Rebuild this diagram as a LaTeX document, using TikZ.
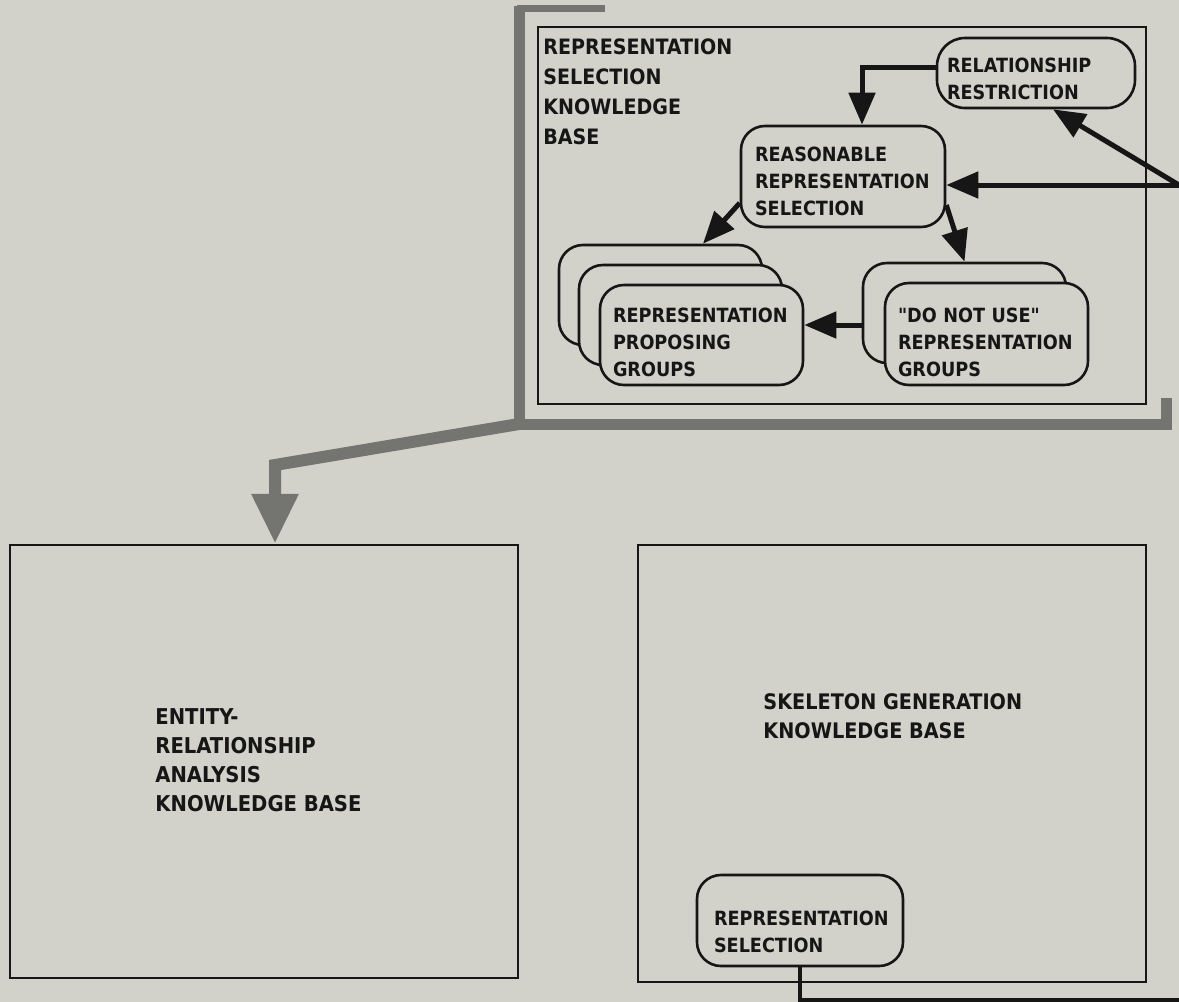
\documentclass[tikz,border=0pt]{standalone}
\usepackage{fontspec}
\newfontfamily\diafont{DejaVu Sans Condensed}
\usetikzlibrary{arrows.meta}
\definecolor{paper}{RGB}{210,210,203}
\definecolor{ink}{RGB}{22,22,22}
\definecolor{halftone}{RGB}{116,116,112}
\newcommand\boxfont{\diafont\bfseries\fontsize{9.8}{13.5}\selectfont}
\newcommand\kbfont{\diafont\bfseries\fontsize{10.6}{15}\selectfont}
\newcommand\toppad[1]{\rule{0pt}{#1}}

\begin{document}
\begin{tikzpicture}[x=0.5pt,y=-0.5pt,
  kbframe/.style={draw=ink, line width=1.2pt, inner sep=0pt},
  card/.style={draw=ink, line width=1.3pt, fill=paper, rounded corners=12pt,
    inner ysep=0pt, align=left, font=\boxfont, text=ink},
  kbtext/.style={inner sep=0pt, anchor=north west, align=left, font=\kbfont, text=ink},
  arr/.style={draw=ink, line width=2.5pt, -{Triangle[length=16pt,width=13pt]}},
  wire/.style={draw=ink, line width=2pt},
  band/.style={draw=halftone, line width=5.5pt, line join=miter},
  bandarrow/.style={draw=halftone, line width=6pt, line join=miter,
    -{Triangle[length=25pt,width=22pt]}}]

\useasboundingbox (0,0) rectangle (1179,1002);
\fill[paper] (0,0) rectangle (1179,1002);

% halftone frame around the representation selection knowledge base
\draw[band, line width=3.5pt] (605,8.5) -- (517,8.5);
\draw[band] (519,6) -- (519,424) -- (1166,424) -- (1166,398);
\coordinate (gstart) at (519,424);

% knowledge base frames
\node[kbframe, minimum width=304pt, minimum height=188.5pt] (kb) at (842,215.5) {};
\node[kbframe, minimum width=254pt, minimum height=216.5pt] (er) at (264,761.5) {};
\node[kbframe, minimum width=254pt, minimum height=218.5pt] (sg) at (892,763.5) {};

% frame titles
\node[kbtext] (kbtitle) at (543,38) {REPRESENTATION\\SELECTION\\KNOWLEDGE\\BASE};
\node[kbtext, font=\diafont\bfseries\fontsize{10.9}{14.5}\selectfont] (ertitle) at (155,708)
  {ENTITY-\\RELATIONSHIP\\ANALYSIS\\KNOWLEDGE BASE};
\node[kbtext, font=\diafont\bfseries\fontsize{10.7}{14.5}\selectfont] (sgtitle) at (763,693)
  {SKELETON GENERATION\\KNOWLEDGE BASE};

% rule boxes
\node[card, minimum width=99pt, minimum height=35pt, inner xsep=5pt, text width=89pt,
  rounded corners=14pt] (relr) at (1036,73) {\toppad{13.5pt}RELATIONSHIP\\RESTRICTION};
\node[card, minimum width=102pt, minimum height=50.5pt, inner xsep=7pt, text width=88pt]
  (reas) at (843,176.5) {\toppad{12pt}REASONABLE\\REPRESENTATION\\SELECTION};

\node[card, minimum width=101.5pt, minimum height=50pt] (p1) at (660.5,295) {};
\node[card, minimum width=101.5pt, minimum height=50pt] (p2) at (680.5,315) {};
\node[card, minimum width=101.5pt, minimum height=50pt, inner xsep=6.5pt, text width=88.5pt]
  (p3) at (701.5,335) {\toppad{14.5pt}REPRESENTATION\\PROPOSING\\GROUPS};

\node[card, minimum width=101.5pt, minimum height=50pt] (d1) at (964.5,313) {};
\node[card, minimum width=101.5pt, minimum height=51pt, inner xsep=6.5pt, text width=88.5pt]
  (d2) at (986.5,334) {\toppad{16pt}"DO NOT USE"\\REPRESENTATION\\GROUPS};

\node[card, minimum width=103pt, minimum height=45.5pt, inner xsep=8.5pt, text width=86pt]
  (rsel) at (800,920.5) {\toppad{19pt}REPRESENTATION\\SELECTION};

% connectors
\coordinate (src) at (1179,185);
\coordinate (sgout) at (1179,1000);
\draw[arr] ([yshift=3pt]relr.west) -| ([xshift=9.5pt]reas.north);
\draw[arr] (src) -- (src -| reas.east);
\draw[arr] (src) -- ([xshift=8.5pt]relr.south);
\draw[arr] ([yshift=-13.25pt]reas.west) -- ([xshift=21.25pt]p1.north);
\draw[arr] ([yshift=-14.25pt]reas.east) -- (d1.north);
\draw[arr] ([yshift=-6pt]d1.west) -- ([yshift=-6pt]d1.west -| p3.east);
\draw[wire] (rsel.south) -- (rsel.south |- sgout) -- (sgout);

% halftone arrow into the entity-relationship knowledge base
\draw[bandarrow] (gstart) -- (275,465) -- ([xshift=5.5pt]er.north);
\end{tikzpicture}
\end{document}
